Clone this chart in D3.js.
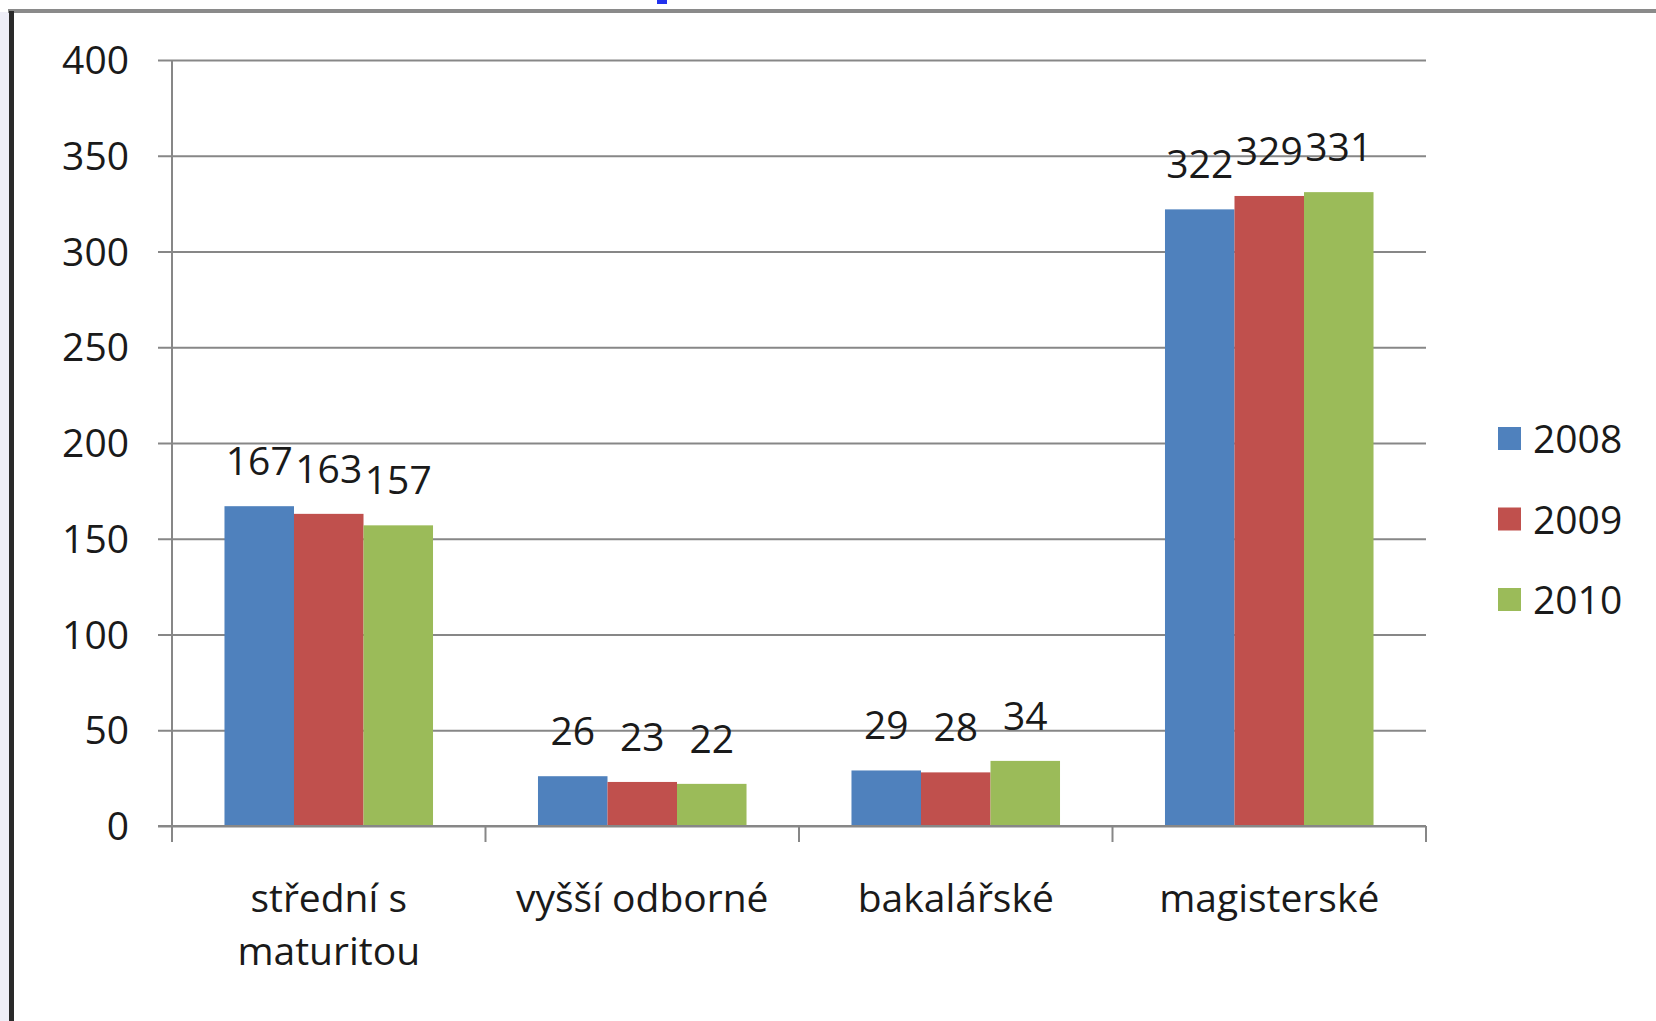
<!DOCTYPE html>
<html>
<head>
<meta charset="utf-8">
<script src="https://cdn.jsdelivr.net/npm/d3@7"></script>
<style>
  body { margin: 0; background: #fff; }
  text { font-family: "Open Sans", sans-serif; fill: #1a1a1a; }
</style>
</head>
<body>
<script>
// data
var categories = ["střední s\nmaturitou", "vyšší odborné", "bakalářské", "magisterské"];
var series = ["2008", "2009", "2010"];
var values2008 = [167, 26, 29, 322];
var values2009 = [163, 23, 28, 329];
var values2010 = [157, 22, 34, 331];
var yTicks = [0, 50, 100, 150, 200, 250, 300, 350, 400];
var colors = ["#4f81bd", "#c0504d", "#9bbb59"];

var W = 1656, H = 1021;
var values = [values2008, values2009, values2010];

var svg = d3.select("body").append("svg")
    .attr("width", W)
    .attr("height", H);

// frame around the pasted chart
svg.append("rect").attr("x", 0).attr("y", 12).attr("width", 10).attr("height", H - 12).attr("fill", "#eeeef7");
svg.append("rect").attr("x", 8).attr("y", 9).attr("width", W - 8).attr("height", 4).attr("fill", "#8a8a8a");
svg.append("rect").attr("x", 9).attr("y", 11).attr("width", 5).attr("height", H - 11).attr("fill", "#2a2a2a");
svg.append("rect").attr("x", 657).attr("y", 0).attr("width", 10).attr("height", 4).attr("fill", "#2233ee");

var plotL = 172, plotR = 1426, plotT = 60, plotB = 826;

var y = d3.scaleLinear().domain([0, 400]).range([plotB, plotT]);
var x0 = d3.scaleBand().domain(categories).range([plotL, plotR]);
var x1 = d3.scaleBand().domain(series).range([0, x0.bandwidth()]).paddingOuter(0.755);

// gridlines + y axis ticks
var yAxis = d3.axisLeft(y).tickValues(yTicks).tickSize(-(plotR - plotL)).tickPadding(0).tickFormat("");
var gy = svg.append("g").attr("transform", "translate(" + plotL + ",0)").call(yAxis);
gy.select(".domain").remove();
gy.selectAll(".tick line").attr("stroke", "#878787").attr("stroke-width", 2).attr("x1", -14);

// y tick labels
svg.append("g").selectAll("text")
    .data(yTicks)
    .enter().append("text")
    .attr("x", 129)
    .attr("y", function(d){ return y(d); })
    .attr("dy", "0.36em")
    .attr("text-anchor", "end")
    .style("font-size", "39px")
    .text(function(d){ return d; });

// y axis line
svg.append("line")
    .attr("x1", plotL).attr("x2", plotL)
    .attr("y1", plotT).attr("y2", plotB + 16)
    .attr("stroke", "#878787").attr("stroke-width", 2);

// category boundary ticks
var bounds = categories.map(function(c){ return x0(c); }).concat([x0(categories[categories.length - 1]) + x0.bandwidth()]);
svg.append("g").selectAll("line")
    .data(bounds.slice(1))
    .enter().append("line")
    .attr("x1", function(d){ return d; }).attr("x2", function(d){ return d; })
    .attr("y1", plotB).attr("y2", plotB + 16)
    .attr("stroke", "#878787").attr("stroke-width", 2);

// bars
var groups = svg.append("g").selectAll("g")
    .data(categories)
    .enter().append("g")
    .attr("transform", function(d){ return "translate(" + x0(d) + ",0)"; });

groups.selectAll("rect")
    .data(function(d, i){ return series.map(function(s, j){ return { s: s, v: values[j][i], j: j }; }); })
    .enter().append("rect")
    .attr("x", function(d){ return x1(d.s); })
    .attr("width", x1.bandwidth())
    .attr("y", function(d){ return y(d.v); })
    .attr("height", function(d){ return y(0) - y(d.v); })
    .attr("fill", function(d){ return colors[d.j]; });

// data labels
groups.selectAll("text")
    .data(function(d, i){ return series.map(function(s, j){ return { s: s, v: values[j][i] }; }); })
    .enter().append("text")
    .attr("x", function(d){ return x1(d.s) + x1.bandwidth() / 2; })
    .attr("y", function(d){ return y(d.v) - 31; })
    .attr("text-anchor", "middle")
    .style("font-size", "39px")
    .text(function(d){ return d.v; });

// zero line over the bars
svg.append("line")
    .attr("x1", plotL - 14).attr("x2", plotR)
    .attr("y1", plotB).attr("y2", plotB)
    .attr("stroke", "#878787").attr("stroke-width", 2);

// category labels
svg.append("g").selectAll("text")
    .data(categories)
    .enter().append("text")
    .attr("x", function(d){ return x0(d) + x0.bandwidth() / 2; })
    .attr("y", 912)
    .attr("text-anchor", "middle")
    .style("font-size", "39px")
    .each(function(d){
        var t = d3.select(this);
        d.split("\n").forEach(function(line, i){
            t.append("tspan")
                .attr("x", t.attr("x"))
                .attr("dy", i == 0 ? 0 : 53)
                .text(line);
        });
    });

// legend
var legend = svg.append("g").selectAll("g")
    .data(series)
    .enter().append("g")
    .attr("transform", function(d, i){ return "translate(1498," + (427 + i * 80.5) + ")"; });

legend.append("rect")
    .attr("width", 23).attr("height", 23)
    .attr("fill", function(d, i){ return colors[i]; });

legend.append("text")
    .attr("x", 35)
    .attr("y", 12)
    .attr("dy", "0.36em")
    .style("font-size", "39px")
    .text(function(d){ return d; });
</script>
</body>
</html>
